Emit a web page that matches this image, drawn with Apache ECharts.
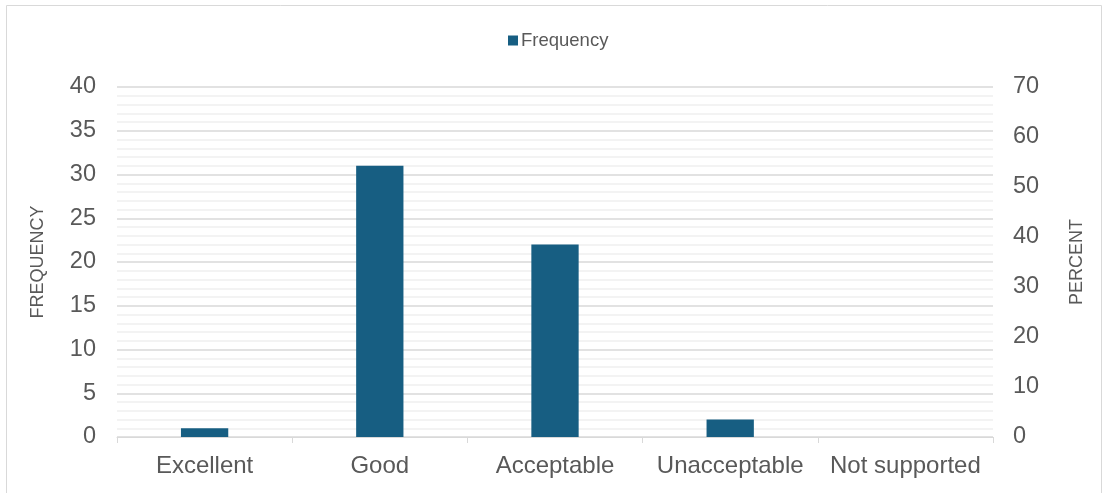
<!DOCTYPE html>
<html><head><meta charset="utf-8">
<script src="https://cdn.jsdelivr.net/npm/echarts@6/dist/echarts.min.js"></script>
<style>html,body{margin:0;padding:0;background:#fff}#c{width:1103px;height:493px}</style>
</head><body><div id="c"></div>
<script>
const categories = ['Excellent', 'Good', 'Acceptable', 'Unacceptable', 'Not supported'];
const frequency = [1, 31, 22, 2, 0];
const seriesName = 'Frequency';

const chart = echarts.init(document.getElementById('c'));
const txt = '#595959';
chart.setOption({
  animation: false,
  textStyle: { fontFamily: 'Liberation Sans, Arial, sans-serif' },
  graphic: [{
    type: 'rect', shape: { x: 6.5, y: 5.5, width: 1095, height: 500 },
    style: { fill: 'none', stroke: '#d9d9d9', lineWidth: 1 }, silent: true
  }],
  legend: {
    data: [seriesName], top: 26, left: 503,
    itemWidth: 10, itemHeight: 10, itemGap: 4,
    icon: 'rect',
    textStyle: { color: '#595959', fontSize: 18.5, padding: [0, 0, 0, -2] }
  },
  grid: { left: 117, right: 110, top: 87, bottom: 56 },
  xAxis: {
    type: 'category', data: categories,
    axisLine: { lineStyle: { color: '#d9d9d9', width: 1 } },
    axisTick: { show: true, length: 6, lineStyle: { color: '#d9d9d9' } },
    axisLabel: { color: txt, fontSize: 24, margin: 17, interval: 0 }
  },
  yAxis: [{
    type: 'value', min: 0, max: 40, interval: 5,
    name: 'FREQUENCY', nameLocation: 'middle', nameGap: 70, nameRotate: 90,
    nameTextStyle: { color: txt, fontSize: 18 },
    axisLabel: { color: txt, fontSize: 23.5, margin: 21 },
    axisLine: { show: false }, axisTick: { show: false },
    splitLine: { lineStyle: { color: '#d9d9d9', width: 1.5 } },
    minorTick: { show: false, splitNumber: 5 },
    minorSplitLine: { show: true, lineStyle: { color: '#efefef', width: 1.5 } }
  }, {
    type: 'value', min: 0, max: 70, interval: 10, position: 'right',
    name: 'PERCENT', nameLocation: 'middle', nameGap: 75, nameRotate: 90,
    nameTextStyle: { color: txt, fontSize: 18 },
    axisLabel: { color: txt, fontSize: 23.5, margin: 20 },
    axisLine: { show: false }, axisTick: { show: false },
    splitLine: { show: false }
  }],
  series: [{
    name: seriesName, type: 'bar', data: frequency, yAxisIndex: 0,
    barWidth: '27%', itemStyle: { color: '#175e82' }
  }]
});
</script></body></html>
